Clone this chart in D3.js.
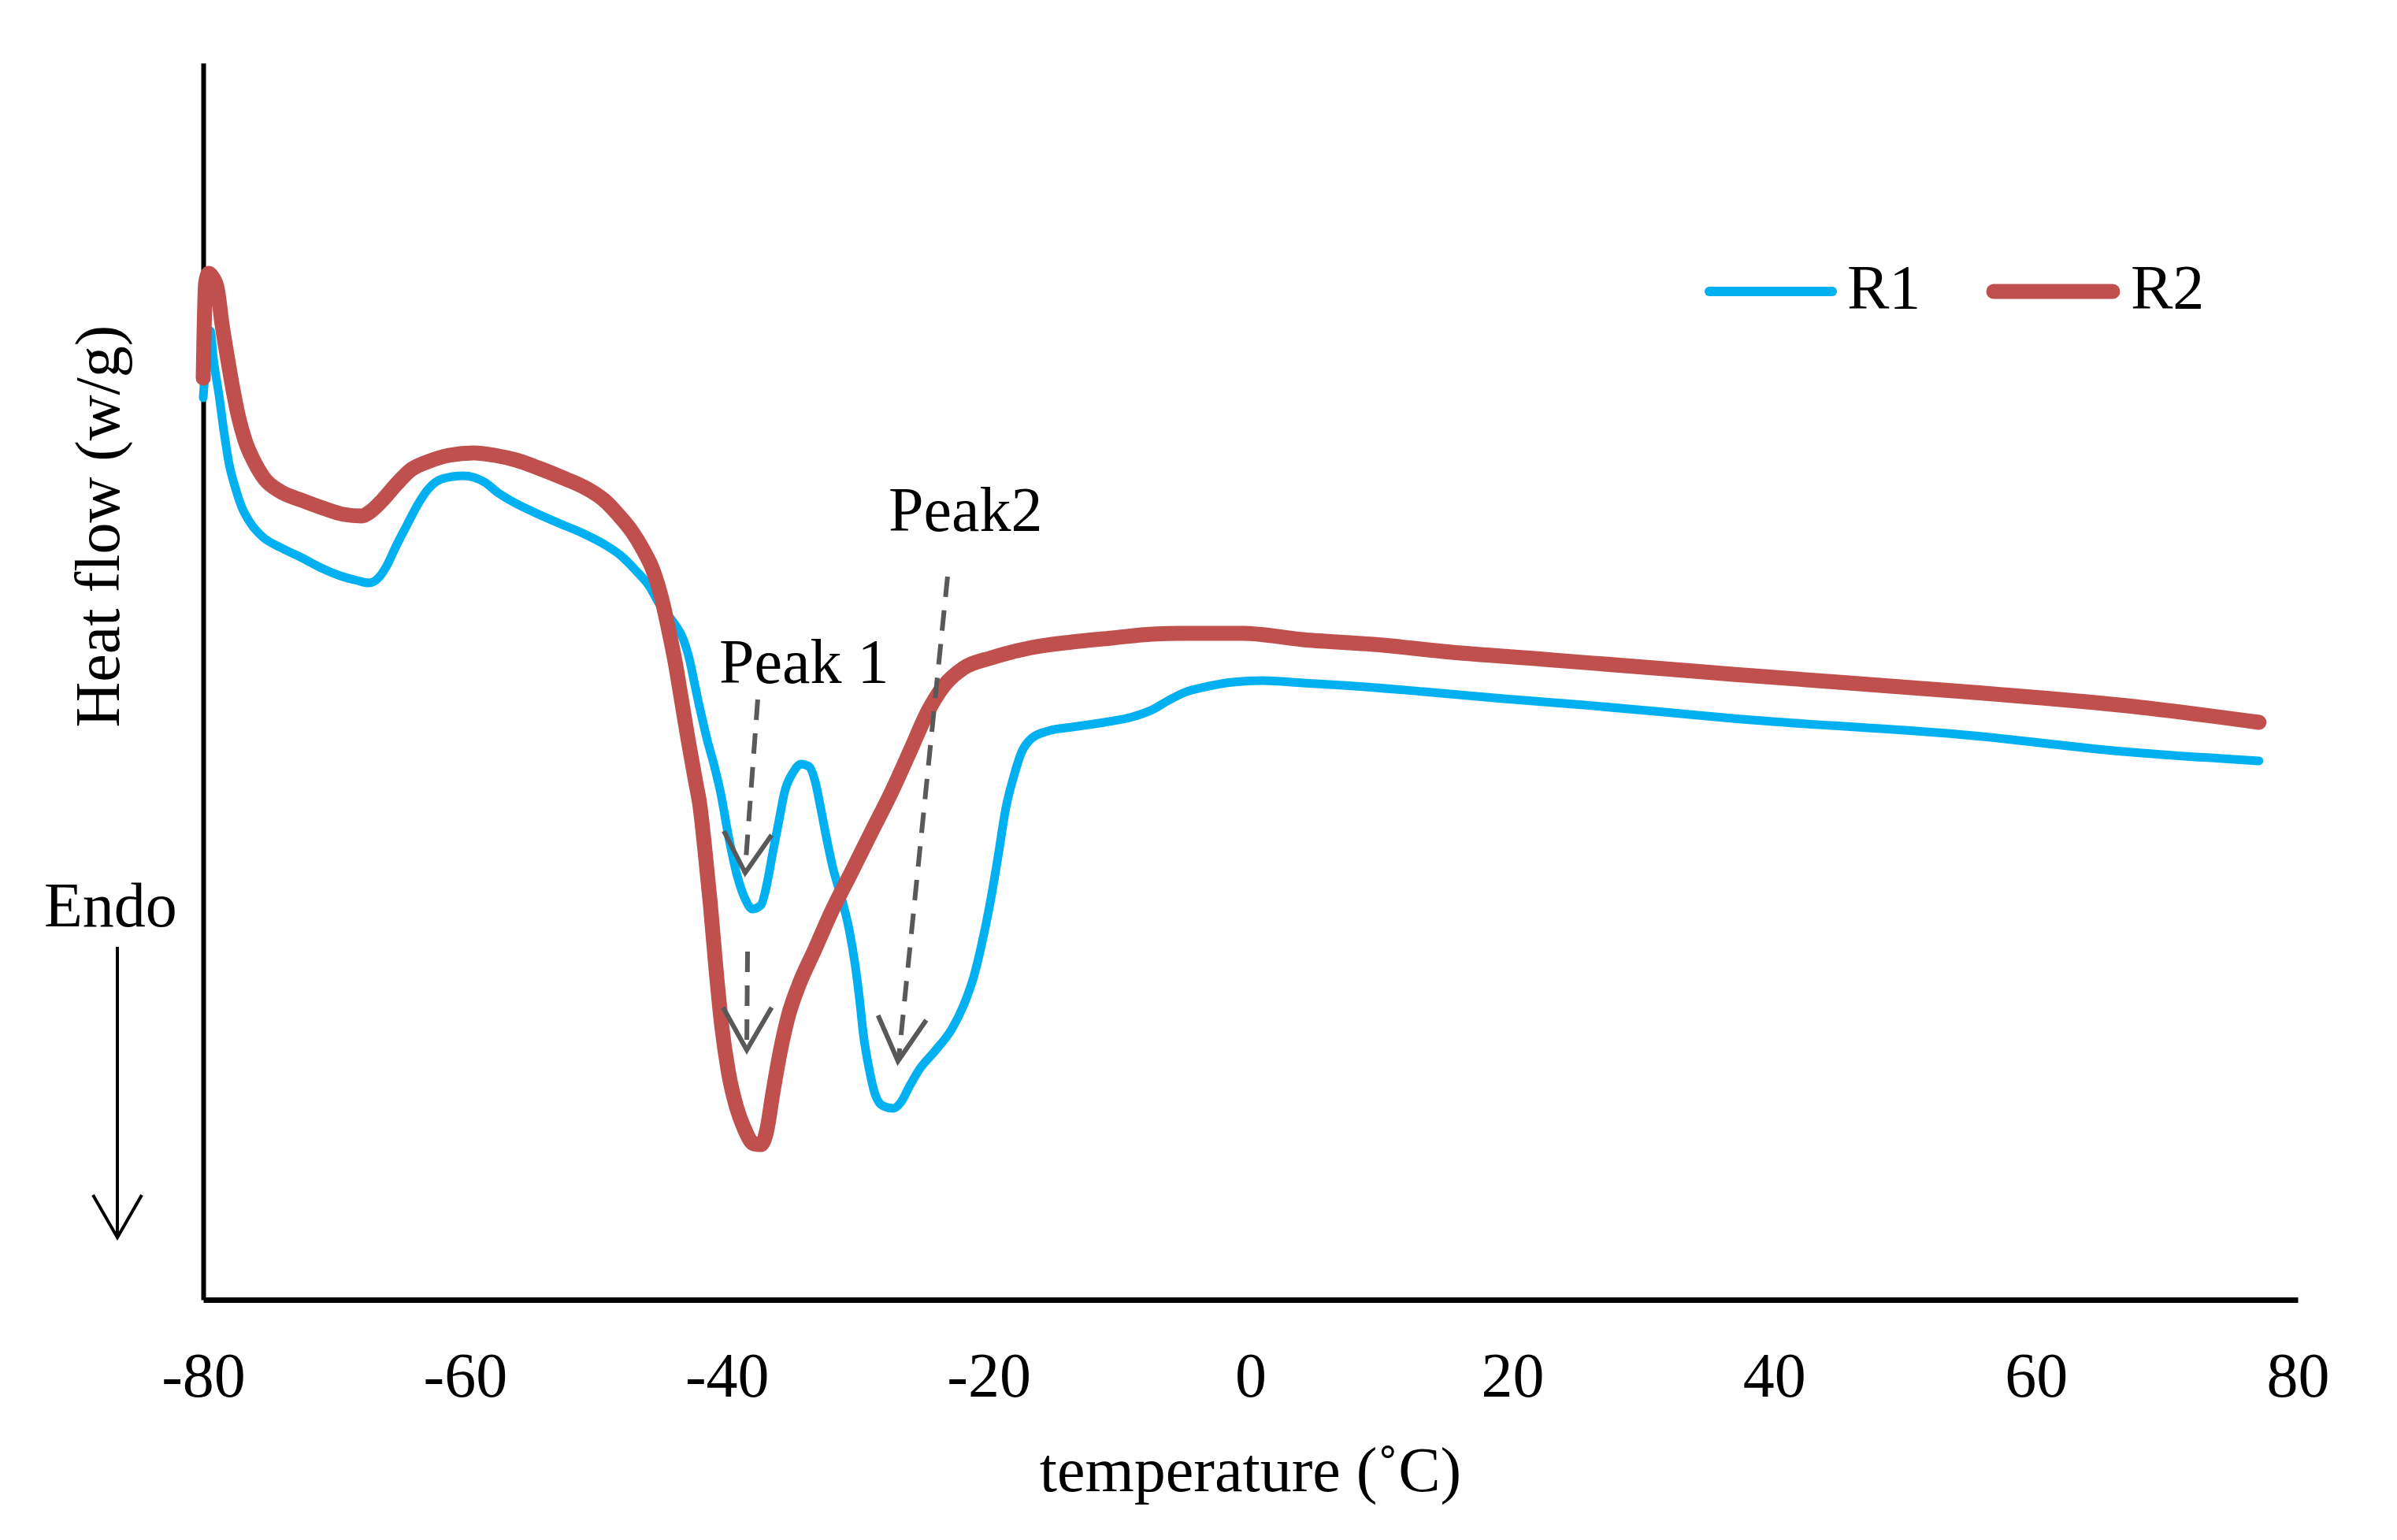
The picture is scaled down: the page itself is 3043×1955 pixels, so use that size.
<!DOCTYPE html>
<html>
<head>
<meta charset="utf-8">
<script src="https://cdn.jsdelivr.net/npm/d3@7"></script>
<style>
  body { margin: 0; background: #fff; }
  text { font-family: "Liberation Serif", "Times New Roman", serif; fill: #000; }
</style>
</head>
<body>
<div id="chart"></div>
<script>
// temperature (°C) and heat flow readings, arbitrary units
const xTicks = [-80, -60, -40, -20, 0, 20, 40, 60, 80]

const r1Temp = [-80.0, -79.70, -79.46, -79.22, -78.80, -78.40, -78.01, -77.59, -77.05, -76.39, -75.43, -74.10, -72.48, -70.85,
  -69.53, -68.21, -67.36, -66.58, -66.04, -65.26, -64.42, -63.63, -62.82, -61.77, -60.14, -59.33, -58.52, -57.44, -56.35,
  -54.76, -52.86, -51.0, -49.37, -48.05, -46.97, -45.85, -45.25, -44.59, -43.99, -43.39, -42.86, -42.44, -41.96, -41.49,
  -40.95, -40.47, -39.87, -39.27, -38.66, -38.03, -37.40, -36.95, -36.50, -36.02, -35.60, -34.96, -34.33, -33.73, -33.27,
  -32.83, -32.35, -31.88, -31.26, -30.66, -30.20, -29.88, -29.58, -29.12, -28.68, -28.07, -27.29, -26.69, -26.05, -25.31,
  -24.04, -22.84, -21.91, -21.16, -20.55, -19.92, -19.29, -18.69, -18.09, -17.49, -16.70, -15.46, -13.63, -11.17, -9.01,
  -7.50, -6.25, -5.03, -3.18, -1.36, 0.93, 4.0, 7.06, 13.20, 19.34, 25.48, 31.61, 36.84, 55.26, 66.63, 77.04]
const r1Flow = [1.145, 1.21, 1.23, 1.194, 1.149, 1.10, 1.06, 1.033, 1.006, 0.986, 0.968, 0.955, 0.942, 0.928,
  0.919, 0.913, 0.910, 0.917, 0.930, 0.957, 0.984, 1.009, 1.029, 1.042, 1.046, 1.044, 1.038, 1.024, 1.013,
  1.000, 0.986, 0.973, 0.959, 0.944, 0.926, 0.904, 0.886, 0.871, 0.858, 0.841, 0.813, 0.780, 0.743, 0.710,
  0.677, 0.643, 0.588, 0.542, 0.511, 0.496, 0.501, 0.527, 0.567, 0.608, 0.644, 0.669, 0.680, 0.677, 0.659,
  0.624, 0.583, 0.547, 0.511, 0.470, 0.425, 0.384, 0.338, 0.292, 0.261, 0.246, 0.243, 0.251, 0.271, 0.292,
  0.317, 0.343, 0.374, 0.409, 0.450, 0.501, 0.562, 0.624, 0.664, 0.695, 0.713, 0.722, 0.727, 0.733, 0.740,
  0.749, 0.761, 0.771, 0.779, 0.784, 0.786, 0.783, 0.780, 0.772, 0.763, 0.755, 0.746, 0.738, 0.716, 0.696, 0.684]

const r2Temp = [-80.0, -79.82, -79.58, -79.28, -78.92, -78.56, -78.13, -77.71, -77.32, -76.81, -76.11, -75.31, -74.10, -72.48,
  -70.85, -69.29, -67.91, -67.12, -66.31, -65.26, -64.18, -62.82, -61.23, -59.33, -57.74, -56.11, -54.25, -52.32, -50.73,
  -49.37, -48.32, -47.24, -46.43, -45.64, -44.98, -44.44, -43.90, -43.58, -42.98, -42.38, -42.08, -41.67, -41.25, -40.83,
  -40.41, -39.87, -39.27, -38.66, -37.94, -37.40, -36.95, -36.50, -35.90, -35.26, -34.51, -33.27, -32.05, -30.51, -28.98,
  -27.44, -25.91, -24.67, -23.44, -21.91, -19.77, -16.70, -13.63, -10.57, -7.50, -5.21, -0.60, 4.0, 10.13, 14.74, 22.41,
  31.61, 36.84, 55.26, 67.53, 77.04]
const r2Flow = [1.17, 1.29, 1.303, 1.298, 1.283, 1.238, 1.194, 1.154, 1.122, 1.091, 1.064, 1.042, 1.026, 1.015,
  1.005, 0.997, 0.995, 1.002, 1.015, 1.035, 1.053, 1.064, 1.072, 1.075, 1.072, 1.066, 1.055, 1.042, 1.030,
  1.015, 0.997, 0.975, 0.953, 0.926, 0.890, 0.850, 0.805, 0.773, 0.713, 0.657, 0.630, 0.570, 0.500, 0.420,
  0.350, 0.288, 0.245, 0.217, 0.198, 0.197, 0.215, 0.261, 0.317, 0.363, 0.399, 0.445, 0.491, 0.542, 0.593,
  0.644, 0.700, 0.746, 0.779, 0.802, 0.815, 0.828, 0.835, 0.840, 0.845, 0.846, 0.846, 0.838, 0.831, 0.823, 0.813,
  0.801, 0.794, 0.771, 0.753, 0.733]

const seriesNames = ["R1", "R2"]
const seriesColors = ["#00B0F0", "#C0504D"]

// peak annotations, anchored in data space
const peakText = ["Peak 1", "Peak2"]
const peakTextAt = [[-40.59, 0.783], [-27.65, 0.976]]
const arrowShafts = [
  [[-37.64, 0.762], [-38.60, 0.547]],
  [[-38.42, 0.442], [-38.48, 0.322]],
  [[-23.14, 0.918], [-26.87, 0.307]]
]
const arrowHeads = [
  [[-40.23, 0.595], [-38.60, 0.542], [-36.58, 0.590]],
  [[-40.29, 0.371], [-38.48, 0.317], [-36.58, 0.371]],
  [[-28.45, 0.361], [-26.93, 0.303], [-24.77, 0.355]]
]

const W = 3043, H = 1955
const margin = { left: 258, right: 126, top: 80, bottom: 305 }

const svg = d3.select("#chart").append("svg").attr("width", W).attr("height", H)

const x = d3.scaleLinear().domain([-80, 80]).range([margin.left, W - margin.right])
const y = d3.scaleLinear().domain([0, 1.57]).range([H - margin.bottom, margin.top])

drawAxes()
drawSeries()
drawPeaks()
drawLegend()
drawLabels()

function drawAxes() {
  const xAxis = svg.append("g").attr("transform", `translate(0,${y(0)})`)
    .call(d3.axisBottom(x).tickValues(xTicks).tickSize(0).tickPadding(66).tickFormat(d => String(d)))
  xAxis.select(".domain").attr("stroke", "#000").attr("stroke-width", 7)
  xAxis.selectAll(".tick text").attr("font-size", 80).attr("font-family", "Liberation Serif")

  const yAxis = svg.append("g").attr("transform", `translate(${x(-80)},0)`)
    .call(d3.axisLeft(y).tickValues([]).tickSizeOuter(0))
  yAxis.select(".domain").attr("stroke", "#000").attr("stroke-width", 6)
}

function drawSeries() {
  const line = d3.line().x(d => x(d[0])).y(d => y(d[1])).curve(d3.curveMonotoneX)
  const series = [d3.zip(r1Temp, r1Flow), d3.zip(r2Temp, r2Flow)]
  const widths = [11, 19]
  svg.append("g").selectAll("path.series").data(series).enter().append("path")
    .attr("class", "series")
    .attr("fill", "none")
    .attr("stroke", (d, i) => seriesColors[i])
    .attr("stroke-width", (d, i) => widths[i])
    .attr("stroke-linejoin", "round")
    .attr("stroke-linecap", "round")
    .attr("d", line)
}

function drawPeaks() {
  const g = svg.append("g").attr("stroke", "#595959").attr("fill", "none").attr("stroke-width", 6)
  const path = d3.line().x(d => x(d[0])).y(d => y(d[1]))
  g.selectAll("path.shaft").data(arrowShafts).enter().append("path")
    .attr("class", "shaft").attr("stroke-dasharray", "26 17").attr("d", path)
  g.selectAll("path.head").data(arrowHeads).enter().append("path")
    .attr("class", "head").attr("d", path)

  svg.append("g").selectAll("text").data(peakText).enter().append("text")
    .attr("x", (d, i) => x(peakTextAt[i][0]))
    .attr("y", (d, i) => y(peakTextAt[i][1]))
    .attr("font-size", 80)
    .text(d => d)
}

function drawLegend() {
  const items = [
    { x1: 2170, x2: 2326, tx: 2345, w: 12 },
    { x1: 2531, x2: 2682, tx: 2705, w: 19 }
  ]
  const g = svg.append("g")
  items.forEach((it, i) => {
    g.append("line").attr("x1", it.x1).attr("x2", it.x2).attr("y1", 370).attr("y2", 370)
      .attr("stroke", seriesColors[i]).attr("stroke-width", it.w).attr("stroke-linecap", "round")
    g.append("text").attr("x", it.tx).attr("y", 392).attr("font-size", 80).text(seriesNames[i])
  })
}

function drawLabels() {
  svg.append("text").attr("x", (x(-80) + x(80)) / 2).attr("y", 1893)
    .attr("text-anchor", "middle").attr("font-size", 80).text("temperature (˚C)")

  svg.append("text").attr("transform", "translate(151,668) rotate(-90)")
    .attr("text-anchor", "middle").attr("font-size", 80).text("Heat flow (w/g)")

  // Endo direction marker
  svg.append("text").attr("x", 56).attr("y", 1176).attr("font-size", 80).text("Endo")
  const g = svg.append("g").attr("stroke", "#000").attr("stroke-width", 4).attr("fill", "none")
  g.append("line").attr("x1", 149).attr("x2", 149).attr("y1", 1202).attr("y2", 1569)
  g.append("path").attr("d", "M118,1517L149,1571L180,1517")
}
</script>
</body>
</html>
